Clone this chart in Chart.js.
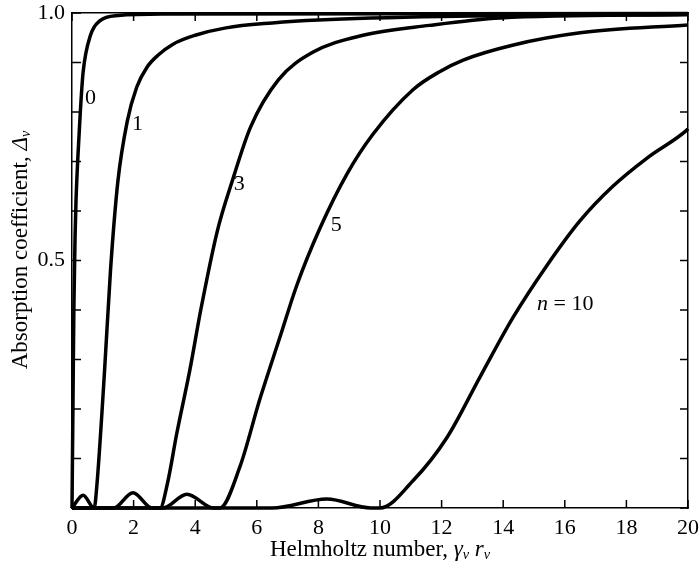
<!DOCTYPE html>
<html>
<head>
<meta charset="utf-8">
<script src="https://cdn.jsdelivr.net/npm/chart.js@4"></script>
<style>
  html, body { margin: 0; padding: 0; background: #fff; }
  #wrap { width: 700px; height: 568px; }
</style>
</head>
<body>
<div id="wrap"><canvas id="absChart" width="700" height="568"></canvas></div>
<script>
// Helmholtz number (x) and absorption coefficient (y) for each mode n
const n0X = [0, 0.03, 0.06, 0.1, 0.13, 0.2, 0.27, 0.36, 0.6, 0.9, 1.5, 3, 20];
const n0Y = [0, 0.2, 0.4, 0.55, 0.62, 0.72, 0.8, 0.88, 0.955, 0.984, 0.995, 0.998, 0.999];

const n1X = [0, 0.36, 0.72, 0.8, 1.05, 1.25, 1.49, 1.79, 2.1, 2.43, 2.8, 3.28, 4.0, 5.0, 6.5, 8, 12, 20];
const n1Y = [0, 0.026, 0, 0.04, 0.27, 0.48, 0.66, 0.78, 0.85, 0.89, 0.915, 0.937, 0.955, 0.97, 0.98, 0.986, 0.993, 0.997];

const n3X = [0, 1.35, 1.98, 2.6, 2.86, 3.1, 3.4, 3.83, 4.18, 4.72, 5.2, 5.8, 6.7, 7.8, 9.45, 11.6, 13.9, 20];
const n3Y = [0, 0, 0.031, 0, 0, 0.05, 0.15, 0.28, 0.4, 0.56, 0.66, 0.77, 0.865, 0.92, 0.955, 0.975, 0.99, 0.997];

const n5X = [0, 2.95, 3.73, 4.6, 4.8, 5.45, 6.1, 6.75, 7.3, 8.05, 8.93, 9.77, 11.07, 11.95, 12.7, 14.3, 16.5, 20];
const n5Y = [0, 0, 0.028, 0, 0, 0.083, 0.22, 0.345, 0.45, 0.565, 0.675, 0.755, 0.845, 0.882, 0.905, 0.935, 0.96, 0.976];

const n10X = [0, 6.5, 8.28, 9.7, 10.0, 11.07, 12.18, 13.25, 14.32, 15.42, 16.49, 17.56, 18.67, 19.97, 20];
const n10Y = [0, 0, 0.018, 0, 0, 0.055, 0.143, 0.265, 0.385, 0.49, 0.58, 0.65, 0.707, 0.764, 0.766];

// curve labels: text, anchor (data coords)
const curveLabels = ['0', '1', '3', '5', 'n = 10'];
const labelX = [0.42, 1.95, 5.25, 8.4, 15.1];
const labelY = [0.828, 0.775, 0.655, 0.572, 0.412];

const xTickLabels = [0, 2, 4, 6, 8, 10, 12, 14, 16, 18, 20];
const yTickLabels = [0.5, 1.0];

const serif = '"Liberation Serif", "DejaVu Serif", serif';

const toPoints = (xs, ys) => xs.map((x, i) => ({ x: x, y: ys[i] }));

const series = [
  toPoints(n0X, n0Y),
  toPoints(n1X, n1Y),
  toPoints(n3X, n3Y),
  toPoints(n5X, n5Y),
  toPoints(n10X, n10Y)
];

// text with italic / subscript parts
function measureRich(ctx, parts, size) {
  let w = 0;
  parts.forEach(p => {
    ctx.font = (p.it ? 'italic ' : '') + (p.sub ? size * 0.62 : size) + 'px ' + serif;
    p.w = ctx.measureText(p.t).width;
    w += p.w;
  });
  return w;
}
function paintRich(ctx, parts, size, x, y) {
  parts.forEach(p => {
    ctx.font = (p.it ? 'italic ' : '') + (p.sub ? size * 0.62 : size) + 'px ' + serif;
    ctx.fillText(p.t, x, p.sub ? y + size * 0.22 : y);
    x += p.w;
  });
}

const noPad = s => { s.paddingLeft = 0; s.paddingRight = 0; s.paddingTop = 0; s.paddingBottom = 0; };

const decorPlugin = {
  id: 'decor',
  afterDraw(chart) {
    const ctx = chart.ctx;
    const area = chart.chartArea;
    const xs = chart.scales.x, ys = chart.scales.y;
    ctx.save();
    ctx.strokeStyle = '#000';
    ctx.lineWidth = 1.5;
    // inward ticks on all four sides
    ctx.beginPath();
    for (let v = 0; v <= 20; v += 2) {
      const px = xs.getPixelForValue(v);
      ctx.moveTo(px, area.bottom); ctx.lineTo(px, area.bottom - 8);
      ctx.moveTo(px, area.top); ctx.lineTo(px, area.top + 8);
    }
    for (let i = 0; i <= 10; i++) {
      const py = ys.getPixelForValue(i / 10);
      ctx.moveTo(area.left, py); ctx.lineTo(area.left + 9, py);
      ctx.moveTo(area.right, py); ctx.lineTo(area.right - 8, py);
    }
    ctx.stroke();

    ctx.fillStyle = '#000';
    ctx.textBaseline = 'middle';
    ctx.textAlign = 'left';
    // curve labels
    curveLabels.forEach((t, i) => {
      const px = xs.getPixelForValue(labelX[i]);
      const py = ys.getPixelForValue(labelY[i]);
      if (t.startsWith('n')) {
        const parts = [{ t: 'n', it: true }, { t: ' = 10' }];
        measureRich(ctx, parts, 22);
        paintRich(ctx, parts, 22, px, py);
      } else {
        ctx.font = '22px ' + serif;
        ctx.fillText(t, px, py);
      }
    });

    // x axis title
    const xParts = [{ t: 'Helmholtz number, ' }, { t: 'γ', it: true }, { t: 'v', it: true, sub: true },
      { t: ' ' }, { t: 'r', it: true }, { t: 'v', it: true, sub: true }];
    const xw = measureRich(ctx, xParts, 23);
    paintRich(ctx, xParts, 23, (area.left + area.right) / 2 - xw / 2, 550);

    // y axis title (rotated)
    const yParts = [{ t: 'Absorption coefficient, ' }, { t: 'Δ', it: true }, { t: 'v', it: true, sub: true }];
    const yw = measureRich(ctx, yParts, 23);
    ctx.translate(21, 250);
    ctx.rotate(-Math.PI / 2);
    paintRich(ctx, yParts, 23, -yw / 2, 0);
    ctx.restore();
  }
};

const ctxAbs = document.getElementById('absChart').getContext('2d');
const absChart = new Chart(ctxAbs, {
  type: 'line',
  data: {
    datasets: series.map(pts => ({
      data: pts,
      borderColor: '#000',
      borderWidth: 3.5,
      pointRadius: 0,
      fill: false,
      cubicInterpolationMode: 'monotone',
      clip: 4
    }))
  },
  options: {
    responsive: false,
    animation: false,
    layout: { padding: 0 },
    plugins: {
      legend: { display: false },
      tooltip: { enabled: false }
    },
    scales: {
      x: {
        type: 'linear', position: 'bottom', min: 0, max: 20,
        grid: { display: false, drawTicks: false },
        border: { display: true, color: '#000', width: 1.5 },
        ticks: {
          stepSize: 2, padding: 7, color: '#000', maxRotation: 0,
          font: { family: serif, size: 22 },
          callback: v => xTickLabels.includes(v) ? String(v) : ''
        },
        afterFit: s => { s.height = 60; noPad(s); }
      },
      x2: {
        type: 'linear', position: 'top', min: 0, max: 20,
        grid: { display: false, drawTicks: false },
        border: { display: true, color: '#000', width: 1.5 },
        ticks: { display: false },
        afterFit: s => { s.height = 13; noPad(s); }
      },
      y: {
        type: 'linear', position: 'left', min: 0, max: 1,
        grid: { display: false, drawTicks: false },
        border: { display: true, color: '#000', width: 1.5 },
        ticks: {
          stepSize: 0.1, padding: 7, color: '#000',
          font: { family: serif, size: 22 },
          callback: v => {
            const r = Math.round(v * 10) / 10;
            return yTickLabels.includes(r) ? r.toFixed(1) : '';
          }
        },
        afterFit: s => { s.width = 72; noPad(s); }
      },
      y2: {
        type: 'linear', position: 'right', min: 0, max: 1,
        grid: { display: false, drawTicks: false },
        border: { display: true, color: '#000', width: 1.5 },
        ticks: { display: false },
        afterFit: s => { s.width = 12; noPad(s); }
      }
    }
  },
  plugins: [decorPlugin]
});
</script>
</body>
</html>
